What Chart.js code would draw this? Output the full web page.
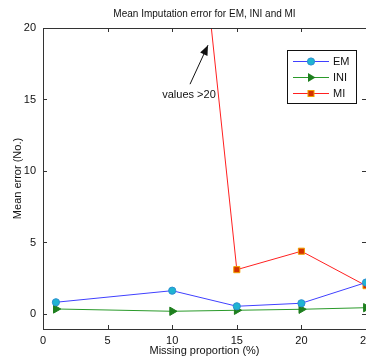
<!DOCTYPE html>
<html><head><meta charset="utf-8">
<script src="https://cdn.jsdelivr.net/npm/chart.js@4/dist/chart.umd.min.js"></script>
<style>html,body{margin:0;padding:0;overflow:hidden;background:#fff;width:366px;height:359px}#wrap{width:380px;height:359px}</style>
</head><body><div id="wrap"><canvas id="c" width="380" height="359"></canvas></div>
<script>
const proportions = [1, 10, 15, 20, 25];
const emValues  = [0.82, 1.63, 0.54, 0.75, 2.2];
const iniValues = [0.35, 0.19, 0.26, 0.33, 0.44];
const miValues  = [45, 46, 3.1, 4.39, 1.98];
const xTicks = [0, 5, 10, 15, 20, 25];
const yTicks = [0, 5, 10, 15, 20];
const seriesNames = ['EM', 'INI', 'MI'];
const noteText = 'values >20';

const FONT = '"Liberation Sans", Arial, sans-serif';
const AX = '#333';

function pts(vals){ return proportions.map((p,i)=>({x:p,y:vals[i]})); }

function drawMarker(ctx, kind, x, y){
  ctx.save();
  if(kind===0){ ctx.beginPath(); ctx.arc(x,y,3.6,0,Math.PI*2); ctx.fillStyle='#1fb4d2'; ctx.fill(); ctx.strokeStyle='#2b8fd0'; ctx.lineWidth=1; ctx.stroke(); }
  else if(kind===1){ ctx.beginPath(); ctx.moveTo(x+4.5,y); ctx.lineTo(x-3,y-4.5); ctx.lineTo(x-3,y+4.5); ctx.closePath(); ctx.fillStyle='#1e7f1e'; ctx.fill(); }
  else { ctx.fillStyle='#d43000'; ctx.strokeStyle='#f0a000'; ctx.lineWidth=1; ctx.fillRect(x-3,y-3,6,6); ctx.strokeRect(x-3,y-3,6,6); }
  ctx.restore();
}

const decor = {
  id:'decor',
  afterDraw(chart){
    const {ctx, chartArea:a, scales:{x,y}} = chart;
    ctx.save();
    ctx.strokeStyle=AX; ctx.lineWidth=1;
    ctx.strokeRect(Math.round(a.left)+0.5, Math.round(a.top)+0.5, Math.round(a.right-a.left), Math.round(a.bottom-a.top));
    ctx.beginPath();
    xTicks.forEach(v=>{const px=Math.round(x.getPixelForValue(v))+0.5; ctx.moveTo(px,a.bottom); ctx.lineTo(px,a.bottom-4); ctx.moveTo(px,a.top); ctx.lineTo(px,a.top+4);});
    yTicks.forEach(v=>{const py=Math.round(y.getPixelForValue(v))+0.5; ctx.moveTo(a.left,py); ctx.lineTo(a.left+4,py); ctx.moveTo(a.right,py); ctx.lineTo(a.right-4,py);});
    ctx.stroke();
    // annotation
    const tx=x.getPixelForValue(11.3), ty=y.getPixelForValue(15.3);
    ctx.fillStyle='#111'; ctx.font='11px '+FONT; ctx.textAlign='center'; ctx.textBaseline='middle';
    ctx.fillText(noteText, tx, ty);
    const x0=x.getPixelForValue(11.38), y0=y.getPixelForValue(16.07);
    const x1=x.getPixelForValue(12.77), y1=y.getPixelForValue(18.8);
    ctx.strokeStyle='#111'; ctx.beginPath(); ctx.moveTo(x0,y0); ctx.lineTo(x1,y1); ctx.stroke();
    const ang=Math.atan2(y1-y0,x1-x0), L=10, W=4;
    ctx.beginPath(); ctx.moveTo(x1,y1);
    ctx.lineTo(x1-L*Math.cos(ang)+W*Math.sin(ang), y1-L*Math.sin(ang)-W*Math.cos(ang));
    ctx.lineTo(x1-L*Math.cos(ang)-W*Math.sin(ang), y1-L*Math.sin(ang)+W*Math.cos(ang));
    ctx.closePath(); ctx.fill();
    // legend
    const lx=287.5, ly=50.5, lw=69, lh=53;
    ctx.fillStyle='#fff'; ctx.fillRect(lx,ly,lw,lh);
    ctx.strokeStyle='#111'; ctx.strokeRect(lx,ly,lw,lh);
    const cols=['#4040ff','#2a9a2a','#ff2020'];
    seriesNames.forEach((n,i)=>{
      const yy=61+i*16;
      ctx.strokeStyle=cols[i]; ctx.beginPath(); ctx.moveTo(293,yy+0.5); ctx.lineTo(329,yy+0.5); ctx.stroke();
      drawMarker(ctx,i,311,yy+0.5);
      ctx.fillStyle='#111'; ctx.textAlign='left'; ctx.textBaseline='middle'; ctx.font='11px '+FONT;
      ctx.fillText(n,333,yy+1);
    });
    ctx.restore();
  }
};

new Chart(document.getElementById('c'), {
  type:'line',
  data:{datasets:[
    {label:seriesNames[0], data:pts(emValues), borderColor:'#4040ff', borderWidth:1, pointStyle:'circle', pointRadius:3.6, pointBackgroundColor:'#1fb4d2', pointBorderColor:'#2b8fd0', pointBorderWidth:1},
    {label:seriesNames[1], data:pts(iniValues), borderColor:'#2a9a2a', borderWidth:1, pointStyle:'triangle', pointRotation:90, pointRadius:4.8, pointBackgroundColor:'#1e7f1e', pointBorderColor:'#1e7f1e', pointBorderWidth:1},
    {label:seriesNames[2], data:pts(miValues), borderColor:'#ff2020', borderWidth:1, pointStyle:'rect', pointRadius:4.3, pointBackgroundColor:'#d43000', pointBorderColor:'#f0a000', pointBorderWidth:1}
  ]},
  options:{
    responsive:false, animation:false, devicePixelRatio:1,
    layout:{padding:{left:0,right:14,top:0,bottom:0}},
    plugins:{
      legend:{display:false}, tooltip:{enabled:false},
      title:{display:true, fullSize:false, text:'Mean Imputation error for EM, INI and MI', color:'#111', font:{family:FONT,size:10,weight:'normal'}, padding:{top:8,bottom:8}}
    },
    scales:{
      x:{type:'linear', min:0, max:25,
        afterBuildTicks:s=>{s.ticks=xTicks.map(v=>({value:v}));},
        afterFit:s=>{s.height=30;},
        grid:{display:false, drawTicks:false}, border:{display:false},
        ticks:{color:'#111', font:{family:FONT,size:11}, padding:5, maxRotation:0},
        title:{display:true, text:'Missing proportion (%)', color:'#111', font:{family:FONT,size:11}, padding:{top:0,bottom:1}}},
      y:{type:'linear', min:-1.05, max:20,
        afterBuildTicks:s=>{s.ticks=yTicks.map(v=>({value:v}));},
        afterFit:s=>{s.width=43;},
        grid:{display:false, drawTicks:false}, border:{display:false},
        ticks:{color:'#111', font:{family:FONT,size:11}, padding:7},
        title:{display:true, text:'Mean error (No.)', color:'#111', font:{family:FONT,size:11}, padding:{top:11,bottom:0}}}
    }
  },
  plugins:[decor]
});
</script></body></html>
